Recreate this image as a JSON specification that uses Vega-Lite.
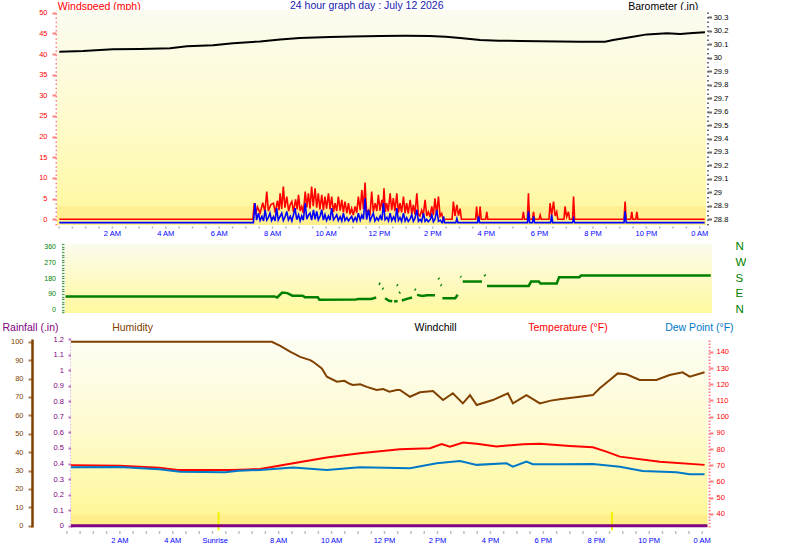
{
  "$schema": "https://vega.github.io/schema/vega-lite/v6.json",
  "background": "white",
  "padding": {"left": 2, "top": 1, "right": 0, "bottom": 0},
  "config": {
    "view": {"stroke": null},
    "font": "Liberation Sans",
    "axis": {
      "labelFont": "Liberation Sans", "titleFont": "Liberation Sans",
      "labelFontSize": 7.5, "titleFontSize": 10.5, "titleFontWeight": "normal",
      "grid": false, "labelOverlap": false, "labelFlush": false, "labelBound": false
    }
  },
  "datasets": {
    "baro": [
      {"h": 0.03, "inHg": 30.044}, {"h": 0.92, "inHg": 30.049}, {"h": 1.55, "inHg": 30.057}, {"h": 2.04, "inHg": 30.062},
      {"h": 3.05, "inHg": 30.064}, {"h": 4.18, "inHg": 30.07}, {"h": 4.81, "inHg": 30.084}, {"h": 5.79, "inHg": 30.092},
      {"h": 6.54, "inHg": 30.107}, {"h": 7.55, "inHg": 30.121}, {"h": 8.3, "inHg": 30.135}, {"h": 9.04, "inHg": 30.146},
      {"h": 10.17, "inHg": 30.153}, {"h": 11.0, "inHg": 30.157}, {"h": 12.04, "inHg": 30.161}, {"h": 13.0, "inHg": 30.162},
      {"h": 13.91, "inHg": 30.161}, {"h": 14.5, "inHg": 30.155}, {"h": 15.04, "inHg": 30.146}, {"h": 15.79, "inHg": 30.131},
      {"h": 16.5, "inHg": 30.126}, {"h": 17.28, "inHg": 30.124}, {"h": 18.78, "inHg": 30.121}, {"h": 19.53, "inHg": 30.118},
      {"h": 20.47, "inHg": 30.118}, {"h": 20.77, "inHg": 30.131}, {"h": 21.4, "inHg": 30.151}, {"h": 22.04, "inHg": 30.173},
      {"h": 22.79, "inHg": 30.181}, {"h": 23.28, "inHg": 30.176}, {"h": 23.76, "inHg": 30.183}, {"h": 24.21, "inHg": 30.188}
    ],
    "gust": [
      {"h":0.03,"mph":0},{"h":7.28,"mph":0},{"h":7.33,"mph":3.9},{"h":7.38,"mph":1.2},{"h":7.45,"mph":3.0},{"h":7.55,"mph":1.5},
      {"h":7.65,"mph":4.0},{"h":7.73,"mph":1.8},{"h":7.8,"mph":6.7},{"h":7.86,"mph":2.0},{"h":7.95,"mph":3.5},{"h":8.05,"mph":3.9},
      {"h":8.12,"mph":1.6},{"h":8.2,"mph":4.5},{"h":8.26,"mph":2.2},{"h":8.3,"mph":6.3},{"h":8.36,"mph":2.5},{"h":8.42,"mph":7.9},
      {"h":8.48,"mph":2.8},{"h":8.55,"mph":5.5},{"h":8.62,"mph":2.0},{"h":8.68,"mph":3.6},{"h":8.74,"mph":4.3},{"h":8.8,"mph":1.8},
      {"h":8.88,"mph":4.8},{"h":8.94,"mph":2.4},{"h":8.99,"mph":5.9},{"h":9.05,"mph":2.0},{"h":9.11,"mph":3.1},{"h":9.17,"mph":1.5},
      {"h":9.24,"mph":6.7},{"h":9.3,"mph":2.9},{"h":9.36,"mph":6.3},{"h":9.42,"mph":2.6},{"h":9.48,"mph":7.9},{"h":9.54,"mph":3.2},
      {"h":9.61,"mph":7.5},{"h":9.67,"mph":2.8},{"h":9.73,"mph":6.3},{"h":9.79,"mph":2.4},{"h":9.86,"mph":5.9},{"h":9.92,"mph":2.2},
      {"h":9.98,"mph":5.5},{"h":10.04,"mph":2.6},{"h":10.11,"mph":6.3},{"h":10.17,"mph":2.4},{"h":10.23,"mph":5.5},{"h":10.3,"mph":1.8},
      {"h":10.36,"mph":3.9},{"h":10.42,"mph":2.0},{"h":10.48,"mph":5.5},{"h":10.55,"mph":2.1},{"h":10.61,"mph":4.7},{"h":10.67,"mph":1.7},
      {"h":10.73,"mph":4.3},{"h":10.8,"mph":1.5},{"h":10.86,"mph":3.9},{"h":10.92,"mph":1.2},{"h":10.98,"mph":2.6},{"h":11.04,"mph":1.0},
      {"h":11.11,"mph":3.1},{"h":11.17,"mph":1.6},{"h":11.23,"mph":5.5},{"h":11.3,"mph":2.2},{"h":11.36,"mph":7.1},{"h":11.42,"mph":2.5},
      {"h":11.48,"mph":8.9},{"h":11.54,"mph":1.5},{"h":11.61,"mph":2.2},{"h":11.67,"mph":1.4},{"h":11.73,"mph":6.7},{"h":11.79,"mph":1.8},
      {"h":11.86,"mph":3.9},{"h":11.92,"mph":2.0},{"h":11.98,"mph":5.9},{"h":12.04,"mph":2.1},{"h":12.11,"mph":4.7},{"h":12.15,"mph":2.5},
      {"h":12.19,"mph":7.5},{"h":12.24,"mph":1.8},{"h":12.29,"mph":3.9},{"h":12.35,"mph":1.9},{"h":12.42,"mph":6.3},{"h":12.48,"mph":2.2},
      {"h":12.54,"mph":5.1},{"h":12.6,"mph":2.0},{"h":12.67,"mph":6.3},{"h":12.73,"mph":1.6},{"h":12.79,"mph":3.9},{"h":12.85,"mph":1.7},
      {"h":12.92,"mph":5.5},{"h":12.98,"mph":1.5},{"h":13.04,"mph":3.9},{"h":13.1,"mph":1.4},{"h":13.17,"mph":4.7},{"h":13.23,"mph":1.3},
      {"h":13.29,"mph":3.5},{"h":13.35,"mph":1.2},{"h":13.42,"mph":6.3},{"h":13.48,"mph":1.1},{"h":13.54,"mph":0.8},{"h":13.6,"mph":2.2},
      {"h":13.66,"mph":1.0},{"h":13.73,"mph":4.7},{"h":13.79,"mph":0.8},{"h":13.85,"mph":1.8},{"h":13.91,"mph":0.6},{"h":13.98,"mph":3.1},
      {"h":14.04,"mph":1.0},{"h":14.1,"mph":5.1},{"h":14.16,"mph":1.2},{"h":14.23,"mph":5.5},{"h":14.29,"mph":0.8},{"h":14.35,"mph":1.4},
      {"h":14.4,"mph":0},{"h":14.74,"mph":0},{"h":14.79,"mph":4.3},{"h":14.85,"mph":0.8},{"h":14.92,"mph":3.5},{"h":14.98,"mph":0.9},
      {"h":15.04,"mph":2.6},{"h":15.09,"mph":0},{"h":15.62,"mph":0},{"h":15.66,"mph":3.1},{"h":15.7,"mph":0},{"h":15.75,"mph":0},
      {"h":15.79,"mph":3.1},{"h":15.83,"mph":0},{"h":16.0,"mph":0},{"h":16.04,"mph":1.8},{"h":16.08,"mph":0},{"h":17.37,"mph":0},
      {"h":17.41,"mph":1.8},{"h":17.45,"mph":0},{"h":17.56,"mph":0},{"h":17.6,"mph":6.3},{"h":17.64,"mph":0},{"h":17.75,"mph":0},
      {"h":17.79,"mph":1.8},{"h":17.83,"mph":0},{"h":18.0,"mph":0},{"h":18.04,"mph":1.0},{"h":18.08,"mph":0},{"h":18.37,"mph":0},
      {"h":18.41,"mph":3.9},{"h":18.47,"mph":1.0},{"h":18.54,"mph":4.3},{"h":18.6,"mph":0.8},{"h":18.66,"mph":1.8},{"h":18.7,"mph":0},
      {"h":18.93,"mph":0},{"h":18.97,"mph":3.1},{"h":19.03,"mph":0.6},{"h":19.1,"mph":1.8},{"h":19.14,"mph":0},{"h":19.25,"mph":0},
      {"h":19.29,"mph":5.5},{"h":19.33,"mph":0},{"h":21.18,"mph":0},{"h":21.22,"mph":4.3},{"h":21.26,"mph":0},{"h":21.43,"mph":0},
      {"h":21.47,"mph":1.8},{"h":21.51,"mph":0},{"h":21.62,"mph":0},{"h":21.66,"mph":1.8},{"h":21.7,"mph":0},{"h":24.2,"mph":0}
    ],
    "speed": [
      {"h":0.03,"mph":0},{"h":7.3,"mph":0},{"h":7.36,"mph":4.7},{"h":7.42,"mph":0.6},{"h":7.49,"mph":2.3},{"h":7.55,"mph":0.5},
      {"h":7.62,"mph":1.5},{"h":7.68,"mph":0.4},{"h":7.74,"mph":3.1},{"h":7.8,"mph":0.6},{"h":7.86,"mph":1.2},{"h":7.92,"mph":2.3},
      {"h":7.98,"mph":0.5},{"h":8.05,"mph":1.4},{"h":8.11,"mph":0.4},{"h":8.17,"mph":3.5},{"h":8.23,"mph":0.6},{"h":8.3,"mph":1.5},
      {"h":8.36,"mph":2.3},{"h":8.42,"mph":0.5},{"h":8.48,"mph":1.3},{"h":8.55,"mph":2.7},{"h":8.61,"mph":0.6},{"h":8.68,"mph":1.5},
      {"h":8.74,"mph":0.4},{"h":8.8,"mph":1.9},{"h":8.86,"mph":3.5},{"h":8.92,"mph":0.7},{"h":8.99,"mph":1.9},{"h":9.05,"mph":0.4},
      {"h":9.11,"mph":1.6},{"h":9.17,"mph":0.6},{"h":9.24,"mph":4.7},{"h":9.3,"mph":0.8},{"h":9.36,"mph":1.8},{"h":9.42,"mph":2.3},
      {"h":9.48,"mph":0.6},{"h":9.55,"mph":3.1},{"h":9.61,"mph":0.8},{"h":9.67,"mph":2.7},{"h":9.73,"mph":0.7},{"h":9.8,"mph":1.6},
      {"h":9.86,"mph":3.1},{"h":9.92,"mph":0.6},{"h":9.98,"mph":1.9},{"h":10.04,"mph":0.5},{"h":10.11,"mph":1.6},{"h":10.17,"mph":0.6},
      {"h":10.23,"mph":3.5},{"h":10.3,"mph":0.7},{"h":10.36,"mph":1.2},{"h":10.42,"mph":1.9},{"h":10.48,"mph":0.5},{"h":10.55,"mph":1.4},
      {"h":10.61,"mph":0.4},{"h":10.67,"mph":2.3},{"h":10.73,"mph":0.5},{"h":10.8,"mph":1.2},{"h":10.86,"mph":0.4},{"h":10.92,"mph":1.0},
      {"h":10.98,"mph":1.5},{"h":11.04,"mph":0.3},{"h":11.11,"mph":1.2},{"h":11.17,"mph":0.4},{"h":11.23,"mph":2.3},{"h":11.3,"mph":0.6},
      {"h":11.36,"mph":1.8},{"h":11.42,"mph":0.8},{"h":11.48,"mph":5.9},{"h":11.54,"mph":0.7},{"h":11.61,"mph":3.1},{"h":11.67,"mph":0.5},
      {"h":11.73,"mph":1.4},{"h":11.79,"mph":2.3},{"h":11.85,"mph":0.4},{"h":11.92,"mph":1.2},{"h":11.98,"mph":0.5},{"h":12.05,"mph":1.6},
      {"h":12.11,"mph":0.6},{"h":12.17,"mph":4.7},{"h":12.23,"mph":0.7},{"h":12.3,"mph":1.3},{"h":12.36,"mph":0.4},{"h":12.42,"mph":2.3},
      {"h":12.48,"mph":0.5},{"h":12.55,"mph":1.4},{"h":12.61,"mph":0.5},{"h":12.67,"mph":3.5},{"h":12.73,"mph":0.5},{"h":12.79,"mph":1.2},
      {"h":12.85,"mph":0.3},{"h":12.92,"mph":2.3},{"h":12.98,"mph":0.4},{"h":13.04,"mph":1.2},{"h":13.1,"mph":0.3},{"h":13.17,"mph":0.9},
      {"h":13.23,"mph":1.9},{"h":13.29,"mph":0.3},{"h":13.35,"mph":1.0},{"h":13.42,"mph":3.1},{"h":13.48,"mph":0.3},{"h":13.54,"mph":0.8},
      {"h":13.6,"mph":0.2},{"h":13.67,"mph":2.3},{"h":13.73,"mph":0.3},{"h":13.79,"mph":0.8},{"h":13.85,"mph":0.2},{"h":13.92,"mph":0.7},
      {"h":13.98,"mph":1.9},{"h":14.04,"mph":0.2},{"h":14.1,"mph":0.8},{"h":14.17,"mph":3.1},{"h":14.23,"mph":0.3},{"h":14.3,"mph":0.6},
      {"h":14.36,"mph":0},{"h":14.38,"mph":0},{"h":14.42,"mph":1.5},{"h":14.46,"mph":0},{"h":14.88,"mph":0},{"h":14.92,"mph":1.0},
      {"h":14.96,"mph":0},{"h":15.69,"mph":0},{"h":15.73,"mph":1.5},{"h":15.77,"mph":0},{"h":17.56,"mph":0},{"h":17.6,"mph":2.7},
      {"h":17.64,"mph":0},{"h":17.75,"mph":0},{"h":17.79,"mph":1.5},{"h":17.83,"mph":0},{"h":18.43,"mph":0},{"h":18.47,"mph":1.9},
      {"h":18.51,"mph":0},{"h":19.25,"mph":0},{"h":19.29,"mph":1.0},{"h":19.33,"mph":0},{"h":21.18,"mph":0},{"h":21.22,"mph":2.7},
      {"h":21.26,"mph":0},{"h":24.2,"mph":0}
    ],
    "dir": [
      {"seg":1,"h":0.265,"deg":76},{"seg":1,"h":8.09,"deg":76},{"seg":1,"h":8.19,"deg":70},{"seg":1,"h":8.38,"deg":98},
      {"seg":1,"h":8.57,"deg":95},{"seg":1,"h":8.76,"deg":80},{"seg":1,"h":9.14,"deg":80},{"seg":1,"h":9.23,"deg":72},
      {"seg":1,"h":9.71,"deg":72},{"seg":1,"h":9.77,"deg":57},{"seg":1,"h":11.14,"deg":59},{"seg":1,"h":11.23,"deg":62},
      {"seg":1,"h":11.71,"deg":62},{"seg":1,"h":11.9,"deg":70},
      {"seg":2,"h":12.23,"deg":66},{"seg":2,"h":12.38,"deg":51},{"seg":2,"h":12.5,"deg":48},
      {"seg":3,"h":12.57,"deg":47},{"seg":3,"h":12.7,"deg":50},
      {"seg":4,"h":12.86,"deg":53},{"seg":4,"h":13.05,"deg":62},{"seg":4,"h":13.24,"deg":70},
      {"seg":5,"h":13.43,"deg":85},{"seg":5,"h":13.62,"deg":78},{"seg":5,"h":13.81,"deg":83},{"seg":5,"h":14.1,"deg":83},
      {"seg":6,"h":12.0,"deg":150},{"seg":6,"h":12.05,"deg":146},
      {"seg":7,"h":12.13,"deg":123},{"seg":7,"h":12.17,"deg":118},
      {"seg":8,"h":12.67,"deg":142},{"seg":8,"h":12.71,"deg":138},
      {"seg":9,"h":12.76,"deg":95},{"seg":9,"h":12.8,"deg":100},
      {"seg":10,"h":13.34,"deg":117},{"seg":10,"h":13.38,"deg":113},
      {"seg":11,"h":14.23,"deg":180},{"seg":11,"h":14.26,"deg":175},
      {"seg":12,"h":14.31,"deg":142},{"seg":12,"h":14.35,"deg":138},
      {"seg":13,"h":14.38,"deg":66},{"seg":13,"h":14.86,"deg":66},{"seg":13,"h":14.95,"deg":85},
      {"seg":14,"h":15.05,"deg":190},{"seg":14,"h":15.08,"deg":186},
      {"seg":15,"h":15.14,"deg":161},{"seg":15,"h":15.86,"deg":161},
      {"seg":16,"h":15.95,"deg":199},{"seg":16,"h":15.99,"deg":193},
      {"seg":17,"h":16.05,"deg":136},{"seg":17,"h":17.61,"deg":136},{"seg":17,"h":17.7,"deg":161},{"seg":17,"h":17.99,"deg":161},
      {"seg":17,"h":18.05,"deg":150},{"seg":17,"h":18.66,"deg":150},{"seg":17,"h":18.75,"deg":186},{"seg":17,"h":19.51,"deg":186},
      {"seg":17,"h":19.57,"deg":195},{"seg":17,"h":24.43,"deg":195}
    ],
    "hum": [
      {"h":0.174,"pct":100},{"h":7.76,"pct":100},{"h":8.08,"pct":97.8},{"h":8.45,"pct":94.6},{"h":8.83,"pct":91.8},{"h":9.21,"pct":90},
      {"h":9.32,"pct":89.1},{"h":9.65,"pct":85.5},{"h":9.84,"pct":81},{"h":10.22,"pct":78.3},{"h":10.5,"pct":78.8},{"h":10.72,"pct":77},
      {"h":10.83,"pct":76.5},{"h":11.1,"pct":76.9},{"h":11.35,"pct":75.5},{"h":11.72,"pct":73.8},{"h":11.97,"pct":74.3},{"h":12.2,"pct":72.9},
      {"h":12.48,"pct":73.8},{"h":12.6,"pct":73.8},{"h":12.98,"pct":70.1},{"h":13.36,"pct":72.5},{"h":13.85,"pct":73.2},{"h":14.23,"pct":68.3},
      {"h":14.6,"pct":72},{"h":14.98,"pct":66.5},{"h":15.25,"pct":71},{"h":15.5,"pct":65.6},{"h":16.11,"pct":68.3},{"h":16.68,"pct":72},
      {"h":16.87,"pct":66.5},{"h":17.38,"pct":71},{"h":17.89,"pct":66.5},{"h":18.3,"pct":68.0},{"h":18.64,"pct":68.8},{"h":19.4,"pct":70.1},
      {"h":19.89,"pct":71},{"h":20.15,"pct":74.7},{"h":20.53,"pct":79.2},{"h":20.83,"pct":82.8},{"h":21.16,"pct":82.3},{"h":21.66,"pct":79.2},
      {"h":22.29,"pct":79.2},{"h":22.79,"pct":81.9},{"h":23.28,"pct":83.4},{"h":23.55,"pct":81},{"h":24.11,"pct":83.4}
    ],
    "temp": [
      {"h":0.174,"degF":70.0},{"h":2.0,"degF":69.7},{"h":3.5,"degF":68.5},{"h":4.2,"degF":67.0},{"h":6.2,"degF":67.0},{"h":6.9,"degF":67.4},
      {"h":7.32,"degF":67.7},{"h":8.57,"degF":71.2},{"h":9.84,"degF":74.7},{"h":11.09,"degF":77.4},{"h":12.6,"degF":79.9},{"h":13.74,"degF":80.5},
      {"h":14.18,"degF":83},{"h":14.49,"degF":81.5},{"h":14.99,"degF":84},{"h":15.5,"degF":83.2},{"h":16.25,"degF":81.5},{"h":17.26,"degF":83},
      {"h":17.89,"degF":83.2},{"h":19.02,"degF":81.9},{"h":19.89,"degF":81.1},{"h":20.4,"degF":78.4},{"h":20.91,"degF":75.3},{"h":22.42,"degF":72.2},
      {"h":24.11,"degF":70.2}
    ],
    "dew": [
      {"h":0.174,"degF":68.7},{"h":2.0,"degF":68.9},{"h":3.5,"degF":67.5},{"h":4.3,"degF":66.0},{"h":6.0,"degF":65.6},{"h":6.5,"degF":66.5},
      {"h":7.32,"degF":67.1},{"h":8.57,"degF":68.5},{"h":9.84,"degF":67.1},{"h":11.09,"degF":68.7},{"h":12.98,"degF":68.1},{"h":13.99,"degF":71.2},
      {"h":14.87,"degF":72.6},{"h":15.5,"degF":70.2},{"h":16.63,"degF":71.2},{"h":16.87,"degF":69.1},{"h":17.38,"degF":72.2},{"h":17.62,"degF":70.6},
      {"h":18.64,"degF":70.6},{"h":19.89,"degF":70.8},{"h":20.91,"degF":69.1},{"h":21.77,"degF":66.4},{"h":23.05,"degF":65.6},{"h":23.55,"degF":64.4},
      {"h":24.11,"degF":64.4}
    ],
    "rain": [
      {"h":0.174,"inch":0},{"h":6,"inch":0},{"h":12,"inch":0},{"h":18,"inch":0},{"h":24.22,"inch":0}
    ],
    "sun": [
      {"h":5.75,"event":"Sunrise"},{"h":20.61,"event":"Sunset"}
    ]
  },
  "spacing": 19,
  "bounds": "flush",
  "vconcat": [
    {
      "width": 649,
      "height": 215,
      "title": {
        "text": "24 hour graph day : July 12 2026", "anchor": "start", "frame": "group",
        "dx": 233, "dy": 19.3, "offset": 0.7, "baseline": "alphabetic",
        "fontSize": 10.5, "fontWeight": "normal", "color": "#2020b0", "font": "Liberation Sans"
      },
      "layer": [
        {
          "data": {"values": [{}]},
          "mark": {"type": "rect", "color": {"gradient": "linear", "x1": 0, "y1": 0, "x2": 0, "y2": 1,
            "stops": [{"offset": 0, "color": "#fbfbf1"}, {"offset": 0.45, "color": "#fefbd2"}, {"offset": 1, "color": "#fff89c"}]}},
          "encoding": {}
        },
        {
          "data": {"values": [{}]},
          "mark": {"type": "rect", "color": "#ffd25a", "opacity": 0.22},
          "encoding": {
            "y": {"datum": -1.38, "type": "quantitative", "scale": {"domain": [-1.38, 50.65], "nice": false, "zero": false}, "axis": null},
            "y2": {"datum": 3.2}
          }
        },
        {
          "data": {"name": "gust"},
          "mark": {"type": "line", "color": "#ff0000", "strokeWidth": 1.6},
          "encoding": {
            "x": {"field": "h", "type": "quantitative", "scale": {"domain": [-0.056, 24.25], "nice": false, "zero": false},
              "axis": {
                "title": null, "labelOverlap": false, "labelFlush": false,
                "values": [2,4,6,8,10,12,14,16,18,20,22,24],
                "labelExpr": "datum.value == 24 ? '0 AM' : datum.value < 12 ? datum.value + ' AM' : datum.value == 12 ? '12 PM' : (datum.value - 12) + ' PM'",
                "labelColor": "#0000ff", "labelFontSize": 7.5, "ticks": false, "tickSize": 0,
                "domainColor": "#b4b4b4", "domainWidth": 2, "domainDash": [1.5, 11.85], "domainDashOffset": -0.75,
                "offset": 2, "labelPadding": 2.5
              }},
            "y": {"field": "mph", "type": "quantitative", "scale": {"domain": [-1.38, 50.65], "nice": false, "zero": false},
              "axis": {
                "orient": "left", "title": "Windspeed (mph)", "titleColor": "#ff0000", "titleAngle": 0, "titleAlign": "left",
                "titleBaseline": "alphabetic", "titleX": 1.3, "titleY": -0.7,
                "values": [0,5,10,15,20,25,30,35,40,45,50], "labelOverlap": false,
                "labelColor": "#ff0000", "labelFontSize": 7.5, "labelPadding": 5,
                "tickColor": "#ff8080", "tickSize": 4, "tickWidth": 2,
                "domainColor": "#ff8080", "domainWidth": 2, "domainDash": [1.5, 2.63], "offset": 1
              }}
          }
        },
        {
          "data": {"name": "speed"},
          "mark": {"type": "line", "color": "#0000ff", "strokeWidth": 1.6, "yOffset": 3.3},
          "encoding": {
            "x": {"field": "h", "type": "quantitative", "scale": {"domain": [-0.056, 24.25], "nice": false, "zero": false}},
            "y": {"field": "mph", "type": "quantitative", "scale": {"domain": [-1.38, 50.65], "nice": false, "zero": false}, "axis": null}
          }
        },
        {
          "data": {"name": "baro"},
          "mark": {"type": "line", "color": "#000000", "strokeWidth": 2},
          "encoding": {
            "x": {"field": "h", "type": "quantitative", "scale": {"domain": [-0.056, 24.25], "nice": false, "zero": false}},
            "y": {"field": "inHg", "type": "quantitative", "scale": {"domain": [28.758, 30.354], "nice": false, "zero": false},
              "axis": {
                "orient": "right", "title": "Barometer (.in)", "titleColor": "#000000", "titleAngle": 0, "titleAlign": "left",
                "titleBaseline": "alphabetic", "titleX": -79.8, "titleY": -0.7, "labelOverlap": false,
                "values": [28.8,28.9,29,29.1,29.2,29.3,29.4,29.5,29.6,29.7,29.8,29.9,30,30.1,30.2,30.3],
                "format": ".1~f", "labelColor": "#000000", "labelFontSize": 7.5, "labelPadding": 1.7,
                "tickColor": "#707070", "tickSize": 4, "tickWidth": 2,
                "domainColor": "#707070", "domainWidth": 2, "domainDash": [1.5, 3.0], "offset": 1.5
              }}
          }
        }
      ],
      "resolve": {"scale": {"y": "independent"}}
    },
    {
      "width": 655,
      "height": 76,
      "layer": [
        {
          "data": {"values": [{}]},
          "mark": {"type": "rect", "color": {"gradient": "linear", "x1": 0, "y1": 0, "x2": 0, "y2": 1,
            "stops": [{"offset": 0, "color": "#fbfbee"}, {"offset": 1, "color": "#fff99e"}]}},
          "encoding": {
            "x": {"datum": 0.243, "type": "quantitative", "scale": {"domain": [-0.056, 24.476], "nice": false, "zero": false}, "axis": null},
            "x2": {"datum": 24.476},
            "y": {"datum": -18.8, "type": "quantitative", "scale": {"domain": [-58.6, 375.3], "nice": false, "zero": false}, "axis": null},
            "y2": {"datum": 375.3}
          }
        },
        {
          "data": {"name": "dir"},
          "mark": {"type": "line", "color": "#008000", "strokeWidth": 2.5},
          "encoding": {
            "x": {"field": "h", "type": "quantitative", "scale": {"domain": [-0.056, 24.476], "nice": false, "zero": false}, "axis": null},
            "y": {"field": "deg", "type": "quantitative", "scale": {"domain": [-58.6, 375.3], "nice": false, "zero": false},
              "axis": {
                "title": null, "domain": false, "labelOverlap": false,
                "values": [-15,0,15,30,45,60,75,90,105,120,135,150,165,180,195,210,225,240,255,270,285,300,315,330,345,360,375],
                "labelExpr": "datum.value >= 0 && datum.value % 90 == 0 ? datum.value + '' : ''",
                "labelColor": "#008000", "labelFontSize": 7, "labelPadding": 6,
                "tickColor": "#50a050", "tickSize": 2.5, "tickWidth": 1.3, "offset": -7
              }},
            "detail": {"field": "seg", "type": "nominal"}
          }
        },
        {
          "data": {"values": []},
          "mark": {"type": "line", "color": "#008000"},
          "encoding": {
            "x": {"field": "h", "type": "quantitative", "scale": {"domain": [-0.056, 24.476], "nice": false, "zero": false}, "axis": null},
            "y": {"field": "deg", "type": "quantitative", "scale": {"domain": [-58.6, 375.3], "nice": false, "zero": false},
              "axis": {
                "orient": "right", "title": null, "values": [0, 90, 180, 270, 360], "labelOverlap": false,
                "labelExpr": "datum.value == 90 ? 'E' : datum.value == 180 ? 'S' : datum.value == 270 ? 'W' : 'N'",
                "labelColor": "#008000", "labelFontSize": 11.5, "labelPadding": 23,
                "ticks": false, "domain": false
              }}
          }
        }
      ],
      "resolve": {"axis": {"y": "independent"}}
    },
    {
      "width": 651,
      "height": 188,
      "layer": [
        {
          "data": {"name": "rain"},
          "mark": {"type": "rect", "color": {"gradient": "linear", "x1": 0, "y1": 0, "x2": 0, "y2": 1,
            "stops": [{"offset": 0, "color": "#fdfdf4"}, {"offset": 0.45, "color": "#fefbd2"}, {"offset": 1, "color": "#fff792"}]}},
          "encoding": {
            "x": {"aggregate": "min", "field": "h", "type": "quantitative", "scale": {"domain": [-0.355, 24.24], "nice": false, "zero": false}},
            "x2": {"aggregate": "max", "field": "h"}
          }
        },
        {
          "data": {"name": "rain"},
          "mark": {"type": "rect", "color": "#ffd25a", "opacity": 0.22},
          "encoding": {
            "x": {"aggregate": "min", "field": "h", "type": "quantitative", "scale": {"domain": [-0.355, 24.24], "nice": false, "zero": false}},
            "x2": {"aggregate": "max", "field": "h"},
            "y": {"datum": -0.008, "type": "quantitative", "scale": {"domain": [-0.008, 1.2005], "nice": false, "zero": false}, "axis": null},
            "y2": {"datum": 0.07}
          }
        },
        {
          "data": {"name": "sun"},
          "mark": {"type": "rule", "color": "#f4f400", "strokeWidth": 2},
          "encoding": {
            "x": {"field": "h", "type": "quantitative", "scale": {"domain": [-0.355, 24.24], "nice": false, "zero": false}},
            "y": {"datum": 0.09, "type": "quantitative", "scale": {"domain": [-0.008, 1.2005], "nice": false, "zero": false}, "axis": null},
            "y2": {"datum": -0.03}
          }
        },
        {
          "data": {"name": "rain"},
          "mark": {"type": "line", "color": "#800080", "strokeWidth": 3},
          "encoding": {
            "x": {"field": "h", "type": "quantitative", "scale": {"domain": [-0.355, 24.24], "nice": false, "zero": false},
              "axis": {
                "title": null, "labelOverlap": false, "labelFlush": false,
                "values": [2,4,5.6,8,10,12,14,16,18,20,22,24],
                "labelExpr": "datum.value == 5.6 ? 'Sunrise' : datum.value == 24 ? '0 AM' : datum.value < 12 ? datum.value + ' AM' : datum.value == 12 ? '12 PM' : (datum.value - 12) + ' PM'",
                "labelColor": "#0000ff", "labelFontSize": 7.5, "ticks": false, "tickSize": 0,
                "domainColor": "#b4b4b4", "domainWidth": 2.5, "domainDash": [1.5, 11.735], "domainDashOffset": -8.65,
                "offset": 5, "labelPadding": 4.5
              }},
            "y": {"field": "inch", "type": "quantitative", "scale": {"domain": [-0.008, 1.2005], "nice": false, "zero": false},
              "axis": {
                "orient": "left", "title": "Rainfall (.in)", "titleColor": "#800080", "titleAngle": 0, "titleAlign": "left",
                "titleBaseline": "alphabetic", "titleX": -69, "titleY": -8.5, "labelOverlap": false,
                "values": [0,0.1,0.2,0.3,0.4,0.5,0.6,0.7,0.8,0.9,1,1.1,1.2], "format": ".1~f",
                "labelColor": "#800080", "labelFontSize": 7.5, "labelPadding": 4.5,
                "tickColor": "#c070c0", "tickSize": 3, "tickWidth": 2,
                "domainColor": "#c070c0", "domainWidth": 2, "domainDash": [1.5, 1.6], "offset": -14
              }}
          }
        },
        {
          "data": {"name": "hum"},
          "mark": {"type": "line", "color": "#804000", "strokeWidth": 2},
          "encoding": {
            "x": {"field": "h", "type": "quantitative", "scale": {"domain": [-0.355, 24.24], "nice": false, "zero": false}},
            "y": {"field": "pct", "type": "quantitative", "scale": {"domain": [-0.7, 101.5], "nice": false, "zero": false},
              "axis": {
                "orient": "left", "title": "Humidity", "titleColor": "#804000", "titleAngle": 0, "titleAlign": "left",
                "titleBaseline": "alphabetic", "titleX": 79.7, "titleY": -8.5, "labelOverlap": false,
                "values": [0,10,20,30,40,50,60,70,80,90,100],
                "labelColor": "#804000", "labelFontSize": 7.5, "labelPadding": 5,
                "tickColor": "#b08050", "tickSize": 4, "tickWidth": 2,
                "domainColor": "#804000", "domainWidth": 2.5, "offset": 25
              }}
          }
        },
        {
          "data": {"name": "temp"},
          "mark": {"type": "line", "color": "#ff0000", "strokeWidth": 2},
          "encoding": {
            "x": {"field": "h", "type": "quantitative", "scale": {"domain": [-0.355, 24.24], "nice": false, "zero": false}},
            "y": {"field": "degF", "type": "quantitative", "scale": {"domain": [31.8, 148], "nice": false, "zero": false},
              "axis": {
                "orient": "right", "title": "Temperature (°F)", "titleColor": "#ff0000", "titleAngle": 0, "titleAlign": "left",
                "titleBaseline": "alphabetic", "titleX": -181.3, "titleY": -8.5, "labelOverlap": false,
                "values": [40,50,60,70,80,90,100,110,120,130,140],
                "labelColor": "#ff0000", "labelFontSize": 7.5, "labelPadding": 3,
                "tickColor": "#ff8080", "tickSize": 4, "tickWidth": 2,
                "domainColor": "#ff8080", "domainWidth": 2, "domainDash": [1.5, 1.7], "offset": 1
              }}
          }
        },
        {
          "data": {"name": "dew"},
          "mark": {"type": "line", "color": "#0078c8", "strokeWidth": 2},
          "encoding": {
            "x": {"field": "h", "type": "quantitative", "scale": {"domain": [-0.355, 24.24], "nice": false, "zero": false}},
            "y": {"field": "degF", "type": "quantitative", "scale": {"domain": [31.8, 148], "nice": false, "zero": false},
              "axis": {
                "orient": "right", "title": "Dew Point (°F)", "titleColor": "#0078c8", "titleAngle": 0, "titleAlign": "left",
                "titleBaseline": "alphabetic", "titleX": -43.3, "titleY": -8.5,
                "labels": false, "ticks": false, "domain": false
              }}
          }
        },
        {
          "data": {"values": []},
          "mark": {"type": "line", "color": "#000000"},
          "encoding": {
            "x": {"field": "h", "type": "quantitative", "scale": {"domain": [-0.355, 24.24], "nice": false, "zero": false}},
            "y": {"field": "windchill", "type": "quantitative", "scale": {"domain": [31.8, 148], "nice": false, "zero": false},
              "axis": {
                "orient": "right", "title": "Windchill", "titleColor": "#000000", "titleAngle": 0, "titleAlign": "left",
                "titleBaseline": "alphabetic", "titleX": -294, "titleY": -8.5,
                "labels": false, "ticks": false, "domain": false
              }}
          }
        }
      ],
      "resolve": {"scale": {"y": "independent"}}
    }
  ]
}
